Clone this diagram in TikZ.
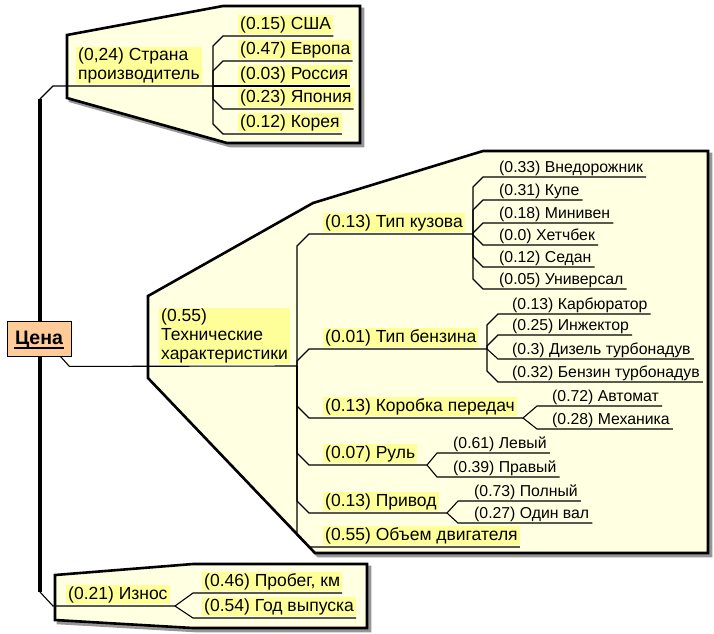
\documentclass[tikz,border=0pt]{standalone}
\usepackage{fontspec}
\setmainfont{Liberation Sans}
\usetikzlibrary{calc}
\definecolor{boxfill}{RGB}{255,255,225}
\definecolor{hl}{RGB}{255,255,153}
\definecolor{rootfill}{RGB}{255,204,153}
\definecolor{shadowgray}{RGB}{150,150,150}
\newcommand\lonefont{\fontsize{17.5}{18.7}\selectfont}
\newcommand\ltwofont{\fontsize{15.8}{17}\selectfont}
\newcommand\kid[3]{\draw[conn] (#1) -- ($(#1 |- #2-u)+(0,#3)$) -- (#2-u) -- (#2-u -| #2.east);}
\newcommand\kiddiag[2]{\draw[conn] (#1) -- (#2-u) -- (#2-u -| #2.east);}
\begin{document}
\begin{tikzpicture}[x=1pt,y=-1pt,
  conn/.style={line width=1.1pt,black},
  trunk/.style={line width=4.5pt,black,line cap=butt},
  boxshape/.style={fill=boxfill,draw=black,line width=2.6pt,line join=miter},
  boxshadow/.style={fill=shadowgray,draw=shadowgray,line width=2.6pt,line join=miter},
  lone/.style={font=\lonefont,fill=hl,inner xsep=2pt,inner ysep=1pt,text height=13pt,text depth=3.6pt,anchor=south west},
  lmulti/.style={font=\lonefont,fill=hl,inner xsep=2pt,inner ysep=1pt,align=left,anchor=south west},
  ltwo/.style={font=\ltwofont,inner xsep=3pt,inner ysep=0pt,anchor=base west},
  rootbox/.style={draw=black,line width=0.8pt,fill=rootfill,minimum width=64pt,minimum height=35pt,inner sep=0pt,
    font=\bfseries\fontsize{19.5}{20}\selectfont,text height=14pt,text depth=3pt}
]
\useasboundingbox[fill=white] (0,0) rectangle (714,633);

% group boxes
\path[boxshadow,shift={(3,3)}] (67,35) -- (223,6) -- (360,6) -- (360,143) -- (227,143) -- (67,98) -- cycle;
\path[boxshape] (67,35) -- (223,6) -- (360,6) -- (360,143) -- (227,143) -- (67,98) -- cycle;
\path[boxshadow,shift={(3,3)}] (148,296) -- (313,203) -- (483,151) -- (708,151) -- (708,553) -- (315,553) -- (148,378) -- cycle;
\path[boxshape] (148,296) -- (313,203) -- (483,151) -- (708,151) -- (708,553) -- (315,553) -- (148,378) -- cycle;
\path[boxshadow,shift={(3,3)}] (55,575) -- (193,564) -- (367,564) -- (367,628) -- (193,628) -- (55,620) -- cycle;
\path[boxshape] (55,575) -- (193,564) -- (367,564) -- (367,628) -- (193,628) -- (55,620) -- cycle;

% trunk
\coordinate (tt) at (40,99);
\coordinate (ttk) at (53,86);
\coordinate (tb) at (40,592);
\coordinate (tbk) at (53,606);
\draw[trunk] (tt) -- (tb);

% root
\node[rootbox] (root) at (39,338.5) {Цена};
\draw[line width=1.7pt] ($(root.base)+(-25,4)$) -- ($(root.base)+(25,4)$);

% top group
\node[lmulti] (strana) at (76,84) {(0,24) Страна\\производитель};
\coordinate (strana-b) at (213,86);
\node[lone] (usa) at (238,34) {(0.15) США};
\node[lone] (evr) at (238,59) {(0.47) Европа};
\node[lone] (ros) at (238,84) {(0.03) Россия};
\node[lone] (jap) at (238,107) {(0.23) Япония};
\node[lone] (kor) at (238,132) {(0.12) Корея};
\coordinate (usa-u) at (223,36);
\coordinate (evr-u) at (223,61);
\coordinate (ros-u) at (223,86);
\coordinate (jap-u) at (223,109);
\coordinate (kor-u) at (223,134);

% technical group
\node[lmulti] (tech) at (159,364) {(0.55)\\Технические\\характеристики};
\coordinate (tech-b) at (297,366);
\node[lone] (kuz) at (323,232) {(0.13) Тип кузова};
\node[lone] (benz) at (323,347) {(0.01) Тип бензина};
\node[lone] (korob) at (323,416) {(0.13) Коробка передач};
\node[lone] (rul) at (323,463) {(0.07) Руль};
\node[lone] (priv) at (323,511) {(0.13) Привод};
\node[lone] (obem) at (323,545) {(0.55) Объем двигателя};
\coordinate (kuz-u) at (309,234);   \coordinate (kuz-b) at (473,234);
\coordinate (benz-u) at (309,349);  \coordinate (benz-b) at (487,349);
\coordinate (korob-u) at (309,418); \coordinate (korob-b) at (523,418);
\coordinate (rul-u) at (309,465);   \coordinate (rul-b) at (427,465);
\coordinate (priv-u) at (309,513);  \coordinate (priv-b) at (447,513);
\coordinate (obem-u) at (309,547);

\node[ltwo] (vned) at (496,172.5) {(0.33) Внедорожник};
\node[ltwo] (kupe) at (496,195.5) {(0.31) Купе};
\node[ltwo] (mini) at (496,218.5) {(0.18) Минивен};
\node[ltwo] (hetch) at (496,240.5) {(0.0) Хетчбек};
\node[ltwo] (sedan) at (496,262.5) {(0.12) Седан};
\node[ltwo] (univ) at (496,284.5) {(0.05) Универсал};
\coordinate (vned-u) at (483,177);
\coordinate (kupe-u) at (483,200);
\coordinate (mini-u) at (483,223);
\coordinate (hetch-u) at (483,245);
\coordinate (sedan-u) at (483,267);
\coordinate (univ-u) at (483,289);

\node[ltwo] (karb) at (509,309.5) {(0.13) Карбюратор};
\node[ltwo] (inj) at (509,330.5) {(0.25) Инжектор};
\node[ltwo] (diz) at (509,354.5) {(0.3) Дизель турбонадув};
\node[ltwo] (benzt) at (509,377.5) {(0.32) Бензин турбонадув};
\coordinate (karb-u) at (498,314);
\coordinate (inj-u) at (498,335);
\coordinate (diz-u) at (498,359);
\coordinate (benzt-u) at (498,382);

\node[ltwo] (avt) at (549,401.5) {(0.72) Автомат};
\node[ltwo] (mech) at (549,424.5) {(0.28) Механика};
\coordinate (avt-u) at (537,406);
\coordinate (mech-u) at (537,429);

\node[ltwo] (lev) at (450,448.5) {(0.61) Левый};
\node[ltwo] (prav) at (450,472.5) {(0.39) Правый};
\coordinate (lev-u) at (437,453);
\coordinate (prav-u) at (437,477);

\node[ltwo] (poln) at (471,496.5) {(0.73) Полный};
\node[ltwo] (odin) at (471,518.5) {(0.27) Один вал};
\coordinate (poln-u) at (458,501);
\coordinate (odin-u) at (458,523);

% wear group
\node[lone] (iznos) at (66,604) {(0.21) Износ};
\coordinate (iznos-b) at (175,606);
\node[lone] (prob) at (202,591) {(0.46) Пробег, км};
\node[lone] (god) at (202,616) {(0.54) Год выпуска};
\coordinate (prob-u) at (193,593);
\coordinate (god-u) at (193,618);

% connectors
\draw[conn] (tt) -- (ttk) -- (strana-b);
\kid{strana-b}{usa}{10}
\kid{strana-b}{evr}{10}
\draw[conn] (strana-b) -- (ros-u -| ros.east);
\kid{strana-b}{jap}{-10}
\kid{strana-b}{kor}{-10}

\draw[conn] ([xshift=-11pt]root.south east) -- ++(9,10) -- (tech-b);
\draw[conn] (tech-b) -- ($(tech-b |- kuz-u)+(0,12)$) -- (kuz-u) -- (kuz-b);
\draw[conn] (tech-b) -- ($(tech-b |- benz-u)+(0,12)$) -- (benz-u) -- (benz-b);
\draw[conn] (tech-b) -- ($(tech-b |- korob-u)+(0,-12)$) -- (korob-u) -- (korob-b);
\draw[conn] (tech-b) -- ($(tech-b |- rul-u)+(0,-12)$) -- (rul-u) -- (rul-b);
\draw[conn] (tech-b) -- ($(tech-b |- priv-u)+(0,-12)$) -- (priv-u) -- (priv-b);
\kid{tech-b}{obem}{-12}

\kid{kuz-b}{vned}{10}
\kid{kuz-b}{kupe}{10}
\kid{kuz-b}{mini}{10}
\kid{kuz-b}{hetch}{-10}
\kid{kuz-b}{sedan}{-10}
\kid{kuz-b}{univ}{-10}

\kid{benz-b}{karb}{11}
\kid{benz-b}{inj}{11}
\kiddiag{benz-b}{diz}
\kid{benz-b}{benzt}{-11}

\kiddiag{korob-b}{avt}
\kiddiag{korob-b}{mech}
\kiddiag{rul-b}{lev}
\kiddiag{rul-b}{prav}
\kiddiag{priv-b}{poln}
\kiddiag{priv-b}{odin}

\draw[conn] (tb) -- (tbk) -- (iznos-b);
\kiddiag{iznos-b}{prob}
\kiddiag{iznos-b}{god}
\end{tikzpicture}
\end{document}
